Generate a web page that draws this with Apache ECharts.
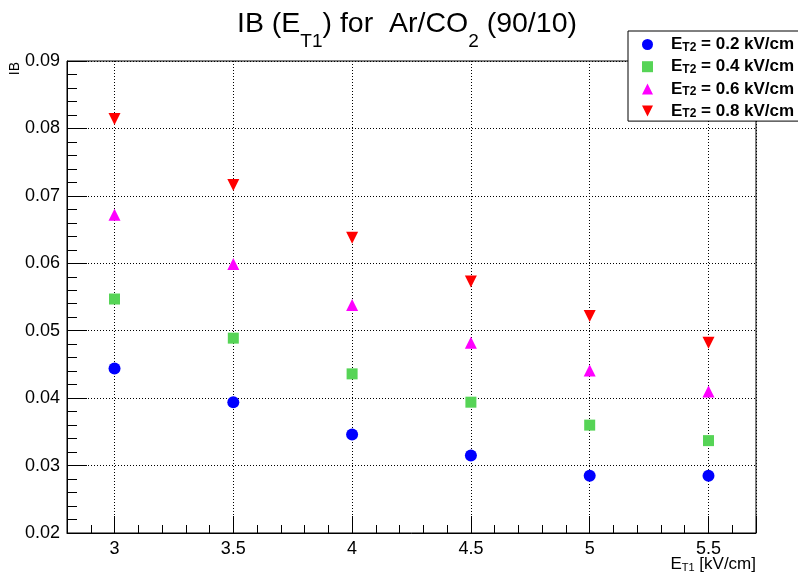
<!DOCTYPE html>
<html><head><meta charset="utf-8">
<script src="https://cdn.jsdelivr.net/npm/echarts@6/dist/echarts.min.js"></script>
<style>html,body{margin:0;padding:0;background:#fff}#c{width:798px;height:575px}</style>
</head><body><div id="c"></div>
<script>
// ---- data ----
const xValues = [3, 3.5, 4, 4.5, 5, 5.5];           // E_T1 [kV/cm]
const ibEt2_02 = [0.0444, 0.0394, 0.0346, 0.0315, 0.0285, 0.0285];
const ibEt2_04 = [0.0547, 0.0489, 0.0436, 0.0394, 0.0360, 0.0337];
const ibEt2_06 = [0.0672, 0.0599, 0.0538, 0.0482, 0.0441, 0.0410];
const ibEt2_08 = [0.0814, 0.0716, 0.0638, 0.0573, 0.0522, 0.0482];
const et2Values = ['0.2', '0.4', '0.6', '0.8'];       // E_T2 [kV/cm]
const xRange = [2.8, 5.7];
const yRange = [0.02, 0.09];
const yStep = 0.01;

// ---- style ----
const FONT = 'Liberation Sans';
const seriesData = [ibEt2_02, ibEt2_04, ibEt2_06, ibEt2_08];
const colors = ['#0000ff', '#56d456', '#ff00ff', '#ff0000'];
const symbols = ['circle', 'rect', 'triangle', 'path://M0,0 L10,0 L5,10 Z'];
const sizes = [12, 11, 12, 12];
const names = et2Values.map(v => 'E_T2 = ' + v + ' kV/cm');

const chart = echarts.init(document.getElementById('c'), null, {renderer: 'canvas'});
const gridLine = {show: true, lineStyle: {color: '#000', width: 1, type: [1, 2]}};

chart.setOption({
  animation: false,
  backgroundColor: '#fff',
  title: {
    text: '{a|IB (E}{s|T1}{a|) for  Ar/CO}{s|2}{a| (90/10)}',
    left: 237, top: -3.5, padding: 0,
    textStyle: {
      fontWeight: 'normal',
      rich: {
        a: {fontFamily: FONT, fontSize: 28.5, fontWeight: 'normal', lineHeight: 55, color: '#000'},
        s: {fontFamily: FONT, fontSize: 19, fontWeight: 'normal', lineHeight: 19, verticalAlign: 'bottom', color: '#000'}
      }
    }
  },
  legend: {
    orient: 'vertical', left: 628, top: 31,
    padding: [5, 14, 1, 14], itemGap: 4.7,
    itemWidth: 11, itemHeight: 11,
    borderColor: '#000', borderWidth: 1, backgroundColor: '#fff',
    data: names,
    formatter: name => {
      const v = et2Values[names.indexOf(name)];
      return '{e|E}{s|T2}{b| = ' + v + ' kV/cm}';
    },
    textStyle: {
      rich: {
        e: {fontFamily: FONT, fontSize: 17, fontWeight: 'bold', lineHeight: 18, color: '#000', padding: [0, 0, 0, 13]},
        b: {fontFamily: FONT, fontSize: 17, fontWeight: 'bold', lineHeight: 18, color: '#000'},
        s: {fontFamily: FONT, fontSize: 12, fontWeight: 'bold', lineHeight: 8, verticalAlign: 'bottom', color: '#000'}
      }
    },
    z: 10
  },
  grid: {left: 67, right: 42, top: 61, bottom: 42, show: true, borderColor: '#000', borderWidth: 1,
         containLabel: false, outerBoundsMode: 'none'},
  xAxis: {
    type: 'value', min: xRange[0], max: xRange[1], splitNumber: 6, minInterval: 0.5, maxInterval: 0.5,
    axisLine: {show: true, lineStyle: {color: '#000', width: 1}},
    axisTick: {show: true, inside: true, length: 17, lineStyle: {color: '#000'}},
    minorTick: {show: true, splitNumber: 5, length: 8, lineStyle: {color: '#000'}},
    axisLabel: {showMinLabel: false, showMaxLabel: false, fontFamily: FONT, fontSize: 18, color: '#000', margin: 7},
    splitLine: gridLine
  },
  yAxis: {
    type: 'value', min: yRange[0], max: yRange[1], interval: yStep,
    axisLine: {show: true, lineStyle: {color: '#000', width: 1}},
    axisTick: {show: true, inside: true, length: 20, lineStyle: {color: '#000'}},
    minorTick: {show: true, splitNumber: 5, length: 10, lineStyle: {color: '#000'}},
    axisLabel: {fontFamily: FONT, fontSize: 18, color: '#000', margin: 7},
    splitLine: gridLine
  },
  graphic: [{
    type: 'text', x: 15, y: 62, rotation: Math.PI / 2,
    style: {text: 'IB', fontFamily: FONT, fontSize: 14, fill: '#000', align: 'right', verticalAlign: 'middle'}
  }, {
    type: 'text', x: 756, y: 564,
    style: {
      text: '{a|E}{s|T1}{a| [kV/cm]}', align: 'right', verticalAlign: 'middle',
      rich: {
        a: {fontFamily: FONT, fontSize: 17, lineHeight: 18, fill: '#000'},
        s: {fontFamily: FONT, fontSize: 11, lineHeight: 8, verticalAlign: 'bottom', fill: '#000'}
      }
    }
  }],
  series: seriesData.map((arr, i) => ({
    type: 'scatter',
    name: names[i],
    data: xValues.map((x, j) => [x, arr[j]]),
    symbol: symbols[i],
    symbolSize: sizes[i],
    itemStyle: {color: colors[i], opacity: 1},
    z: 5
  }))
});
</script>
</body></html>
